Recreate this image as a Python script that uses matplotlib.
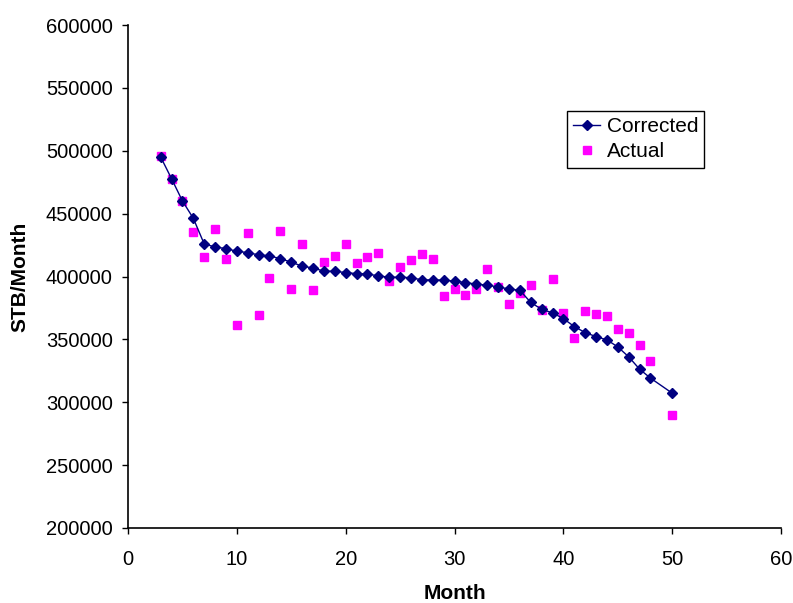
import matplotlib
matplotlib.use("Agg")
import matplotlib.pyplot as plt

plt.rcParams['font.family'] = ['Liberation Sans', 'DejaVu Sans']

# months
months = [3, 4, 5, 6, 7, 8, 9, 10, 11, 12, 13, 14, 15, 16, 17, 18, 19, 20,
          21, 22, 23, 24, 25, 26, 27, 28, 29, 30, 31, 32, 33, 34, 35, 36, 37,
          38, 39, 40, 41, 42, 43, 44, 45, 46, 47, 48, 50]

corrected = [495100, 477800, 460100, 446300, 425900, 423500, 422200, 420100,
             419000, 417200, 416400, 414200, 411400, 408200, 406800, 404200,
             404200, 403100, 402300, 402000, 400500, 399400, 399400, 399100,
             397300, 397300, 397100, 396300, 395200, 393900, 393100, 391700,
             390100, 389000, 379400, 373900, 371100, 366500, 360200, 355400,
             352200, 349600, 344000, 336100, 326300, 319200, 307200]

actual = [495600, 477800, 460100, 435500, 415800, 437600, 414200, 361800,
          434400, 369200, 399100, 436500, 389900, 425900, 389600, 411600,
          416600, 425900, 410800, 415600, 418800, 396300, 407400, 413000,
          418200, 414200, 384600, 389900, 385100, 390100, 405800, 392000,
          378500, 386700, 393300, 373700, 397700, 370800, 351200, 372900,
          370300, 368900, 358400, 355200, 345700, 332700, 289800]

fig = plt.figure(figsize=(7.93, 6.03), dpi=100)
ax = fig.add_axes([0.1614, 0.1244, 0.8236, 0.8341])

ax.plot(months, corrected, color='#000080', lw=1, marker='D', ms=5,
        label='Corrected', zorder=3)
ax.plot(months, actual, ls='none', color='#FF00FF', marker='s', ms=5.5,
        label='Actual', zorder=2)

ax.set_xlim(0, 60)
ax.set_ylim(200000, 600000)
ax.set_xticks(range(0, 61, 10))
ax.set_yticks(range(200000, 600001, 50000))
ax.tick_params(direction='out', length=4, width=1, labelsize=14.5, color='black')
ax.tick_params(axis='y', pad=7)
ax.tick_params(axis='x', pad=12)
for s in ['top', 'right']:
    ax.spines[s].set_visible(False)
for s in ['left', 'bottom']:
    ax.spines[s].set_linewidth(1.2)

ax.set_xlabel('Month', fontsize=15, fontweight='bold', labelpad=11)
ax.set_ylabel('STB/Month', fontsize=15, fontweight='bold', labelpad=12)

leg = ax.legend(loc='upper left', bbox_to_anchor=(567 / 793, 1 - 111 / 603),
                bbox_transform=fig.transFigure, borderaxespad=0,
                fancybox=False, edgecolor='black', fontsize=15,
                handlelength=1.3, handletextpad=0.3, borderpad=0.3,
                labelspacing=0.3, framealpha=1)
leg.get_frame().set_linewidth(1)

fig.savefig('out.png', dpi=100)
